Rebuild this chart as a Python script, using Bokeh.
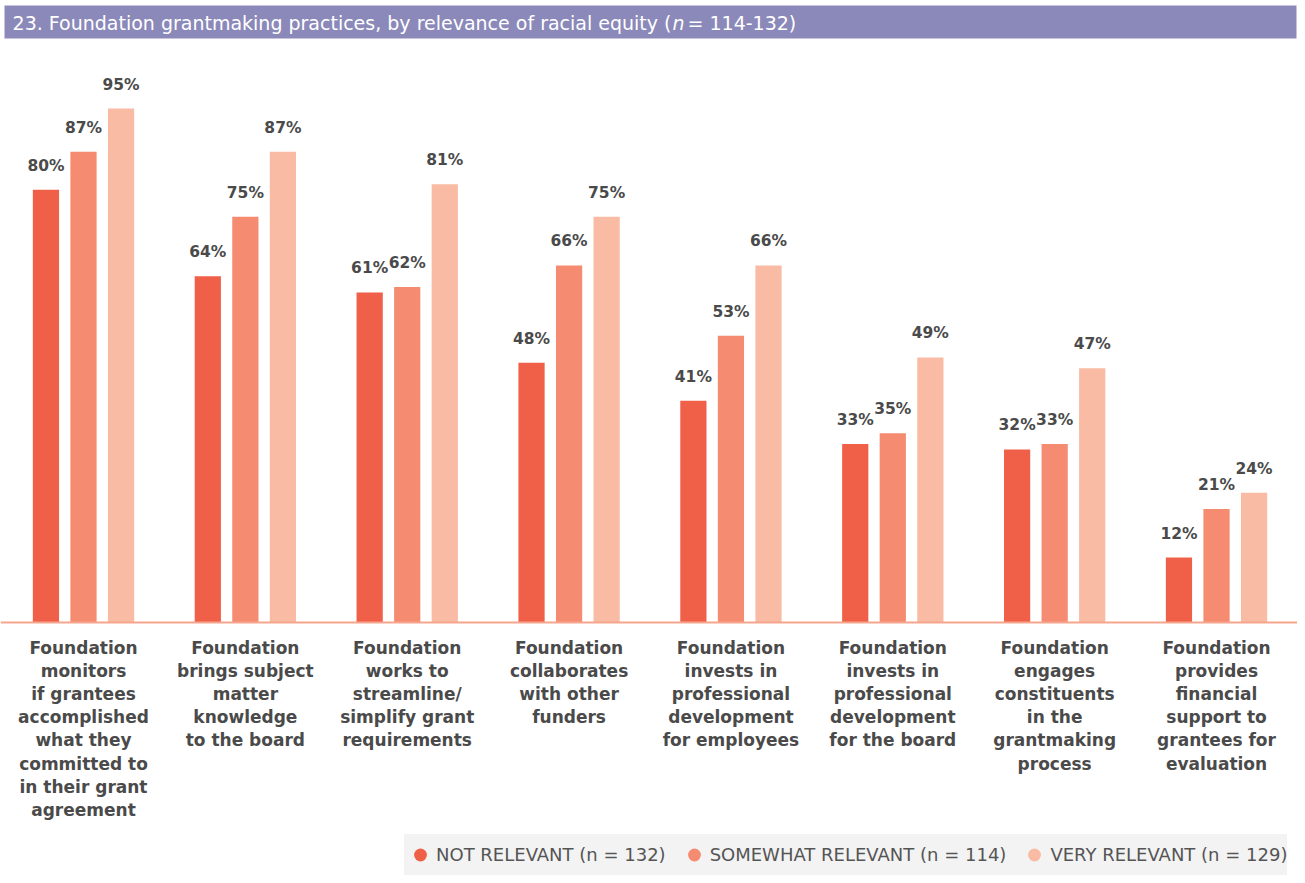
from bokeh.plotting import figure
from bokeh.models import Range1d, ColumnDataSource, Span, BoxAnnotation, Label, Legend, LegendItem
from bokeh.core.properties import value
from bokeh.embed import file_html
from bokeh.resources import INLINE

categories = [
    "Foundation\nmonitors\nif grantees\naccomplished\nwhat they\ncommitted to\nin their grant\nagreement",
    "Foundation\nbrings subject\nmatter\nknowledge\nto the board",
    "Foundation\nworks to\nstreamline/\nsimplify grant\nrequirements",
    "Foundation\ncollaborates\nwith other\nfunders",
    "Foundation\ninvests in\nprofessional\ndevelopment\nfor employees",
    "Foundation\ninvests in\nprofessional\ndevelopment\nfor the board",
    "Foundation\nengages\nconstituents\nin the\ngrantmaking\nprocess",
    "Foundation\nprovides\nfinancial\nsupport to\ngrantees for\nevaluation",
]
not_relevant = [80, 64, 61, 48, 41, 33, 32, 12]
somewhat_relevant = [87, 75, 62, 66, 53, 35, 33, 21]
very_relevant = [95, 87, 81, 75, 66, 49, 47, 24]
series_names = ["NOT RELEVANT (n = 132)", "SOMEWHAT RELEVANT (n = 114)", "VERY RELEVANT (n = 129)"]
series_colors = ["#f05f48", "#f58b70", "#f9bba3"]
title_text = "23. Foundation grantmaking practices, by relevance of racial equity ("
title_n = "n"
title_tail = " = 114-132)"

FONT = "DejaVu Sans"
PX_X = 161.86   # pixels per category
PX_Y = 5.41     # pixels per percent
CX0 = 83        # pixel centre of first category
BASE = 622      # pixel row of the zero line

W, H = 1297, 876
x0 = (0 - CX0) / PX_X
x1 = x0 + W / PX_X
y1 = BASE / PX_Y
y0 = y1 - H / PX_Y

def px_x(px):
    return (px - CX0) / PX_X

def px_y(py):
    return (BASE - py) / PX_Y

p = figure(width=W, height=H, output_backend="svg", toolbar_location=None,
           x_range=Range1d(x0, x1), y_range=Range1d(y0, y1),
           x_axis_location=None, y_axis_location=None, min_border=0,
           outline_line_color=None, background_fill_color="white")
p.grid.visible = False

idx = list(range(len(categories)))
offsets = [-0.232, 0.0, 0.232]
series = [not_relevant, somewhat_relevant, very_relevant]
leg_items = []
for k, (vals, col, name) in enumerate(zip(series, series_colors, series_names)):
    xs = [i + offsets[k] for i in idx]
    src = ColumnDataSource(dict(x=xs, top=vals, lab=[f"{v}%" for v in vals]))
    p.vbar(x="x", top="top", bottom=0, width=0.162, source=src,
           fill_color=col, line_color=None)
    p.text(x="x", y="top", text="lab", source=src, text_align="center",
           text_baseline="alphabetic", y_offset=-24, text_font=value(FONT),
           text_font_style="bold", text_font_size="15.5px", text_color="#4a4a4a")
    # legend proxy (hidden) drawn from the same series
    lr = p.scatter(x="x", y="top", source=src, marker="circle", size=14,
                   fill_color=col, line_color=None, visible=False)
    leg_items.append(LegendItem(label=name, renderers=[lr]))

p.add_layout(Span(location=0, dimension="width", line_color="#f5a58e", line_width=2))

csrc = ColumnDataSource(dict(x=idx, y=[0] * len(idx), t=categories))
p.text(x="x", y="y", text="t", source=csrc, text_align="center", text_baseline="top",
       y_offset=15, text_font=value(FONT), text_font_style="bold", text_font_size="17px",
       text_color="#4a4a4a", text_line_height=1.16)

# title band
p.add_layout(BoxAnnotation(bottom=px_y(38), top=px_y(5), left=px_x(4), right=px_x(1296),
                           fill_color="#8b89b9", fill_alpha=1.0, line_color=None))
ty = px_y(22)
p.add_layout(Label(x=px_x(671), y=ty, text=title_text, text_baseline="middle",
                   text_align="right", text_color="white", text_font=FONT,
                   text_font_size="19px"))
p.add_layout(Label(x=px_x(672), y=ty, text=title_n, text_baseline="middle",
                   text_color="white", text_font=FONT, text_font_size="19px",
                   text_font_style="italic"))
p.add_layout(Label(x=px_x(687), y=ty, text=title_tail, text_baseline="middle",
                   text_color="white", text_font=FONT, text_font_size="19px"))

legend = Legend(items=leg_items, orientation="horizontal", location=(404, 1),
                background_fill_color="#f3f3f3", background_fill_alpha=1.0,
                border_line_color=None, label_text_font=FONT, label_text_font_size="18px",
                label_text_color="#555555", glyph_width=32, glyph_height=41,
                label_standoff=-4, spacing=12, padding=4, margin=0,
                label_height=18)
p.add_layout(legend, "center")

open("out.html", "w").write(file_html(p, INLINE))
